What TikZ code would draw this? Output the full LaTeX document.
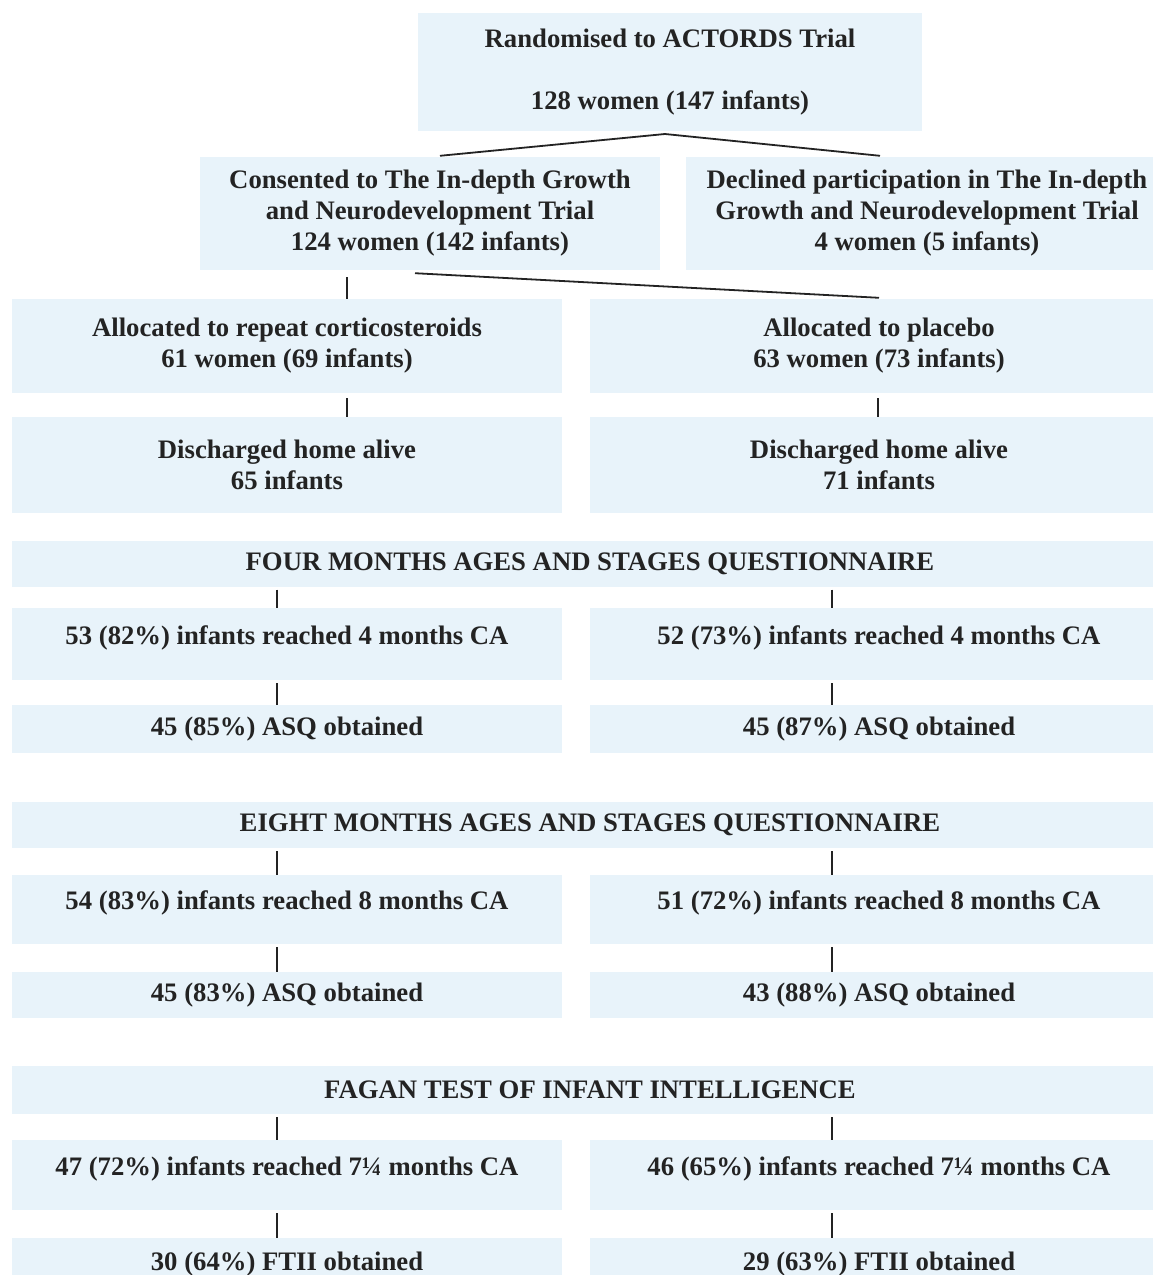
\documentclass[tikz,border=0pt]{standalone}
\usepackage{fontspec}
\setmainfont{Liberation Serif}
\usetikzlibrary{calc}
\definecolor{boxblue}{RGB}{232,243,250}
\definecolor{inkgrey}{RGB}{35,35,35}

\begin{document}
\begin{tikzpicture}[x=1pt,y=-1pt,
		box_style/.style={rectangle,fill=boxblue,inner sep=0pt,align=center,text=inkgrey,
			font=\fontsize{26.7}{31}\selectfont\bfseries},
		left_box/.style={box_style,minimum width=550pt},
		right_box/.style={box_style,minimum width=578pt},
		reach_box/.style={text depth=18pt},
		banner_style/.style={box_style,minimum width=1156pt,minimum height=46pt},
		edge_style/.style={draw=inkgrey,line width=1.8pt,shorten <=3pt}]

		\useasboundingbox (0,0) rectangle (1153,1275);

		% trial entry and consent
		\node[box_style,minimum width=504pt,minimum height=118pt] (rand) at (670,72) {Randomised to ACTORDS Trial\\[31pt]128 women (147 infants)};
		\node[box_style,minimum width=460pt,minimum height=113pt] (cons) at (430,213.5) {Consented to The In-depth Growth\\and Neurodevelopment Trial\\124 women (142 infants)};
		\node[box_style,minimum width=482pt,minimum height=113pt] (decl) at (927,213.5) {Declined participation in The In-depth\\Growth and Neurodevelopment Trial\\4 women (5 infants)};

		% allocation
		\node[left_box,minimum height=94pt] (alloc) at (287,346) {Allocated to repeat corticosteroids\\61 women (69 infants)};
		\node[right_box,minimum height=94pt] (plac) at (879,346) {Allocated to placebo\\63 women (73 infants)};
		\node[left_box,minimum height=96pt] (dischL) at (287,465) {Discharged home alive\\65 infants};
		\node[right_box,minimum height=96pt] (dischR) at (879,465) {Discharged home alive\\71 infants};

		% four months ASQ
		\node[banner_style] (four) at (590,563.5) {FOUR MONTHS AGES AND STAGES QUESTIONNAIRE};
		\node[left_box,reach_box,minimum height=72pt] (r4L) at (287,644) {53 (82\%) infants reached 4 months CA};
		\node[right_box,reach_box,minimum height=72pt] (r4R) at (879,644) {52 (73\%) infants reached 4 months CA};
		\node[left_box,minimum height=48pt] (asq4L) at (287,729) {45 (85\%) ASQ obtained};
		\node[right_box,minimum height=48pt] (asq4R) at (879,729) {45 (87\%) ASQ obtained};

		% eight months ASQ
		\node[banner_style] (eight) at (590,825) {EIGHT MONTHS AGES AND STAGES QUESTIONNAIRE};
		\node[left_box,reach_box,minimum height=69pt] (r8L) at (287,909.5) {54 (83\%) infants reached 8 months CA};
		\node[right_box,reach_box,minimum height=69pt] (r8R) at (879,909.5) {51 (72\%) infants reached 8 months CA};
		\node[left_box,minimum height=46pt] (asq8L) at (287,995) {45 (83\%) ASQ obtained};
		\node[right_box,minimum height=46pt] (asq8R) at (879,995) {43 (88\%) ASQ obtained};

		% Fagan test
		\node[banner_style,minimum height=48pt] (fagan) at (590,1090) {FAGAN TEST OF INFANT INTELLIGENCE};
		\node[left_box,reach_box,minimum height=70pt] (r7L) at (287,1175) {47 (72\%) infants reached 7¼ months CA};
		\node[right_box,reach_box,minimum height=70pt] (r7R) at (879,1175) {46 (65\%) infants reached 7¼ months CA};
		\node[left_box,minimum height=52pt] (ftL) at (287,1264) {30 (64\%) FTII obtained};
		\node[right_box,minimum height=52pt] (ftR) at (879,1264) {29 (63\%) FTII obtained};

		\coordinate (fork) at (665,134);
		\coordinate (colA) at (347,0);
		\coordinate (colB) at (878,0);
		\coordinate (colL) at (277,0);
		\coordinate (colR) at (832,0);

		\draw[edge_style,shorten <=0pt] ($(cons.north)+(10,-1)$) -- (fork) -- ($(decl.north)+(-47,-1)$);
		\draw[edge_style,shorten <=0pt] ($(cons.south)+(-15,3)$) -- ($(plac.north)+(0,-1)$);
		\draw[edge_style,shorten <=7pt] (cons.south -| colA) -- (alloc.north -| colA);
		\draw[edge_style,shorten <=5pt] (alloc.south -| colA) -- (dischL.north -| colA);
		\draw[edge_style,shorten <=5pt] (plac.south -| colB) -- (dischR.north -| colB);

		\draw[edge_style] (four.south -| colL) -- (r4L.north -| colL);
		\draw[edge_style] (four.south -| colR) -- (r4R.north -| colR);
		\draw[edge_style] (r4L.south -| colL) -- (asq4L.north -| colL);
		\draw[edge_style] (r4R.south -| colR) -- (asq4R.north -| colR);

		\draw[edge_style] (eight.south -| colL) -- (r8L.north -| colL);
		\draw[edge_style] (eight.south -| colR) -- (r8R.north -| colR);
		\draw[edge_style] (r8L.south -| colL) -- (asq8L.north -| colL);
		\draw[edge_style] (r8R.south -| colR) -- (asq8R.north -| colR);

		\draw[edge_style] (fagan.south -| colL) -- (r7L.north -| colL);
		\draw[edge_style] (fagan.south -| colR) -- (r7R.north -| colR);
		\draw[edge_style] (r7L.south -| colL) -- (ftL.north -| colL);
		\draw[edge_style] (r7R.south -| colR) -- (ftR.north -| colR);

\end{tikzpicture}
\end{document}
